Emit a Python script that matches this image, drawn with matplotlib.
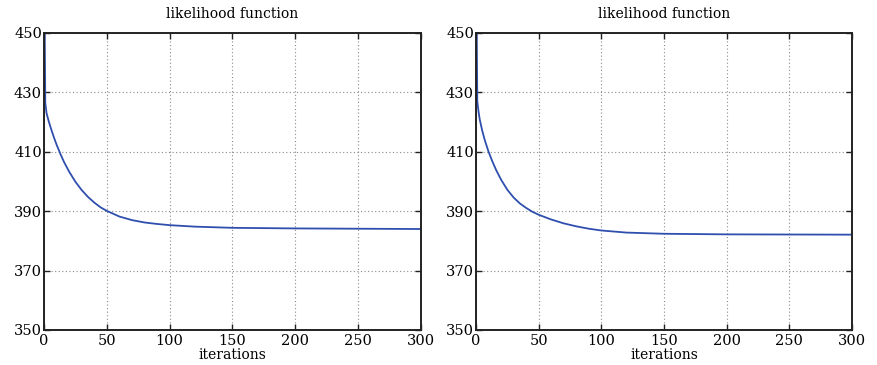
import matplotlib
matplotlib.use("Agg")
import matplotlib.pyplot as plt

# iterations and likelihood values
iters_left = [0, 1, 2, 4, 6, 8, 10, 13, 16, 20, 25, 30, 35, 40, 45, 50,
              60, 70, 80, 90, 100, 120, 150, 200, 250, 300]
lik_left = [480, 426.5, 423.0, 419.9, 417.2, 414.7, 412.4, 409.3, 406.5,
            403.3, 399.9, 397.1, 394.8, 392.9, 391.3, 390.1,
            388.2, 387.0, 386.2, 385.7, 385.3, 384.8, 384.4, 384.2, 384.1, 384.0]

iters_right = [0, 1, 2, 3, 5, 7, 10, 13, 16, 20, 25, 30, 35, 40, 45, 50,
               60, 70, 80, 90, 100, 120, 150, 200, 250, 300]
lik_right = [480, 427.0, 423.5, 420.8, 417.0, 413.9, 410.0, 406.8, 403.9,
             400.6, 397.2, 394.6, 392.6, 391.1, 389.8, 388.8,
             387.2, 385.9, 384.9, 384.1, 383.5, 382.8, 382.4, 382.2, 382.15, 382.1]

xticks = [0, 50, 100, 150, 200, 250, 300]
yticks = [350, 370, 390, 410, 430, 450]

plt.rcParams['font.family'] = ['DejaVu Serif']
plt.rcParams['font.size'] = 10.5

fig = plt.figure(figsize=(8.77, 3.65), dpi=100)
ax1 = fig.add_axes([0.0502, 0.0959, 0.4298, 0.8137])
ax2 = fig.add_axes([0.5428, 0.0959, 0.4287, 0.8137])

for ax, x, y in [(ax1, iters_left, lik_left), (ax2, iters_right, lik_right)]:
    ax.plot(x, y, color='#2f4fae', linewidth=1.3)
    ax.set_xlim(0, 300)
    ax.set_ylim(350, 450)
    ax.set_xticks(xticks)
    ax.set_yticks(yticks)
    ax.tick_params(direction='in', top=True, right=True, length=4,
                   width=1.0, colors='#222222', labelcolor='black')
    ax.tick_params(axis='y', pad=1.5)
    ax.tick_params(axis='x', pad=3)
    ax.grid(True, linestyle=(0, (1, 2.2)), color='#8a8a8a', linewidth=0.8)
    for s in ax.spines.values():
        s.set_linewidth(1.4)
        s.set_color('#222222')
    ax.set_title('likelihood function', fontsize=10, pad=11)
    ax.set_xlabel('iterations', fontsize=10, labelpad=0)

fig.savefig('out.png', dpi=100)
